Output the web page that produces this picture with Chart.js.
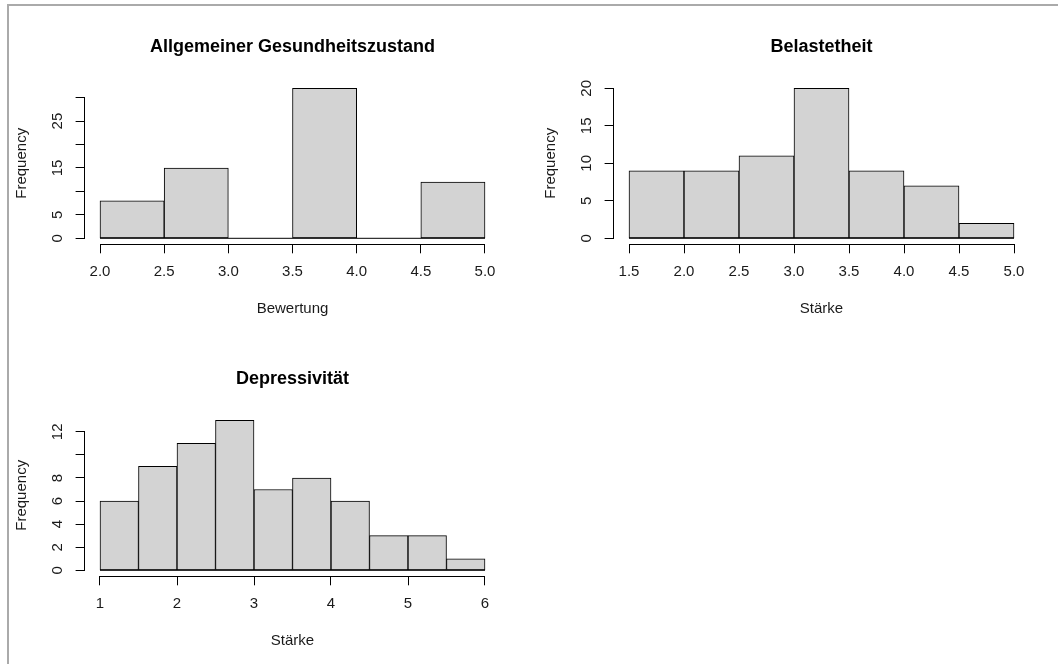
<!DOCTYPE html>
<html>
<head>
<meta charset="utf-8">
<script src="https://cdn.jsdelivr.net/npm/chart.js@4.4.1/dist/chart.umd.min.js"></script>
<style>
  html, body { margin: 0; padding: 0; background: #fff; }
  #page { position: relative; width: 1058px; height: 664px; overflow: hidden; background: #fff; }
  #frame { position: absolute; left: 7px; top: 4px; width: 1100px; height: 700px;
           border-top: 2px solid #aaa; border-left: 2px solid #aaa; }
  canvas { position: absolute; }
</style>
</head>
<body>
<div id="page">
  <div id="frame"></div>
  <canvas id="histGesundheit" width="529" height="332" style="left:0;top:0"></canvas>
  <canvas id="histBelastet" width="529" height="332" style="left:529px;top:0"></canvas>
  <canvas id="histDepress" width="529" height="332" style="left:0;top:332px"></canvas>
</div>
<script>
// --- Daten ---
const titleGesundheit = 'Allgemeiner Gesundheitszustand';
const xTitleGesundheit = 'Bewertung';
const breaksGesundheit = [2.0, 2.5, 3.0, 3.5, 4.0, 4.5, 5.0];
const countsGesundheit = [8, 15, 0, 32, 0, 12];
const xTicksGesundheit = [2.0, 2.5, 3.0, 3.5, 4.0, 4.5, 5.0];
const xLabelsGesundheit = ['2.0', '2.5', '3.0', '3.5', '4.0', '4.5', '5.0'];
const yTicksGesundheit = [0, 5, 10, 15, 20, 25, 30];
const yLabelsGesundheit = ['0', '5', '', '15', '', '25', ''];

const titleBelastet = 'Belastetheit';
const xTitleBelastet = 'Stärke';
const breaksBelastet = [1.5, 2.0, 2.5, 3.0, 3.5, 4.0, 4.5, 5.0];
const countsBelastet = [9, 9, 11, 20, 9, 7, 2];
const xTicksBelastet = [1.5, 2.0, 2.5, 3.0, 3.5, 4.0, 4.5, 5.0];
const xLabelsBelastet = ['1.5', '2.0', '2.5', '3.0', '3.5', '4.0', '4.5', '5.0'];
const yTicksBelastet = [0, 5, 10, 15, 20];
const yLabelsBelastet = ['0', '5', '10', '15', '20'];

const titleDepress = 'Depressivität';
const xTitleDepress = 'Stärke';
const breaksDepress = [1.0, 1.5, 2.0, 2.5, 3.0, 3.5, 4.0, 4.5, 5.0, 5.5, 6.0];
const countsDepress = [6, 9, 11, 13, 7, 8, 6, 3, 3, 1];
const xTicksDepress = [1, 2, 3, 4, 5, 6];
const xLabelsDepress = ['1', '2', '3', '4', '5', '6'];
const yTicksDepress = [0, 2, 4, 6, 8, 10, 12];
const yLabelsDepress = ['0', '2', '4', '6', '8', '', '12'];

// --- Layout wie R (par(mfrow=c(2,2))) ---
const CELL_W = 529, CELL_H = 332;
const PLOT_LEFT = 84.6, PLOT_RIGHT = 500.4, PLOT_TOP = 82.3, PLOT_BOTTOM = 244.3;
const FONT = '"Liberation Sans", Arial, sans-serif';
const TEXT = '#1a1a1a';

// R zeichnet die Achsenlinie nur vom ersten bis zum letzten Tick
const rAxisLine = {
  id: 'rAxisLine',
  afterDraw(chart) {
    const { ctx, chartArea, scales } = chart;
    const align = p => Math.round(p - 0.5) + 0.5;
    const xt = scales.x.ticks, yt = scales.y.ticks;
    ctx.save();
    ctx.strokeStyle = '#000';
    ctx.lineWidth = 1;
    ctx.beginPath();
    const yb = align(chartArea.bottom);
    ctx.moveTo(align(scales.x.getPixelForValue(xt[0].value)), yb);
    ctx.lineTo(align(scales.x.getPixelForValue(xt[xt.length - 1].value)), yb);
    const xl = align(chartArea.left);
    ctx.moveTo(xl, align(scales.y.getPixelForValue(yt[0].value)));
    ctx.lineTo(xl, align(scales.y.getPixelForValue(yt[yt.length - 1].value)));
    ctx.stroke();
    ctx.restore();
  }
};

function makeHist(id, title, xTitle, breaks, counts, xTicks, xLabels, yTicks, yLabels) {
  const mids = counts.map((c, i) => ({ x: (breaks[i] + breaks[i + 1]) / 2, y: c }));
  const xFirst = breaks[0], xLast = breaks[breaks.length - 1];
  const xPad = 0.04 * (xLast - xFirst);
  const yMax = Math.max(...counts);
  const yPad = 0.04 * yMax;

  const tickGrid = {
    display: true, drawOnChartArea: false, drawTicks: true,
    tickLength: 9, color: '#000', lineWidth: 1, offset: false
  };

  return new Chart(document.getElementById(id), {
    type: 'bar',
    data: {
      datasets: [
        {
          type: 'line',
          data: [{ x: xFirst, y: 0 }, { x: xLast, y: 0 }],
          borderColor: '#000', borderWidth: 1, pointRadius: 0, order: 0
        },
        {
          data: mids,
          backgroundColor: '#d3d3d3',
          borderColor: '#000',
          borderWidth: 1,
          borderSkipped: false,
          barPercentage: 1.0,
          categoryPercentage: 1.0,
          order: 1
        }
      ]
    },
    options: {
      responsive: false,
      animation: false,
      layout: { autoPadding: false, padding: { left: 0, top: 0, bottom: 0, right: CELL_W - PLOT_RIGHT } },
      plugins: {
        legend: { display: false },
        tooltip: { enabled: false },
        title: {
          display: true, text: title, fullSize: false, color: '#000',
          font: { family: FONT, size: 18, weight: 'bold' },
          padding: { top: 36.2, bottom: PLOT_TOP - 36.2 - 21.6 }
        }
      },
      scales: {
        x: {
          type: 'linear', offset: false,
          min: xFirst - xPad, max: xLast + xPad,
          afterBuildTicks: s => { s.ticks = xTicks.map(v => ({ value: v })); },
          afterFit: s => { s.height = CELL_H - PLOT_BOTTOM; },
          grid: tickGrid,
          border: { display: false },
          ticks: {
            autoSkip: false, maxRotation: 0, minRotation: 0, padding: 10,
            color: TEXT, font: { family: FONT, size: 15 },
            callback: (v, i) => xLabels[i]
          },
          title: {
            display: true, text: xTitle, color: TEXT,
            font: { family: FONT, size: 15 },
            padding: { top: 0, bottom: 13.7 }
          }
        },
        y: {
          min: -yPad, max: yMax + yPad,
          afterBuildTicks: s => { s.ticks = yTicks.map(v => ({ value: v })); },
          afterFit: s => { s.width = PLOT_LEFT; },
          grid: tickGrid,
          border: { display: false },
          ticks: {
            autoSkip: false, minRotation: 90, maxRotation: 90, crossAlign: 'center', padding: 9,
            color: TEXT, font: { family: FONT, size: 15 },
            callback: (v, i) => yLabels[i]
          },
          title: {
            display: true, text: 'Frequency', color: TEXT,
            font: { family: FONT, size: 15 },
            padding: { top: 12.7, bottom: 0 }
          }
        }
      }
    },
    plugins: [rAxisLine]
  });
}

makeHist('histGesundheit', titleGesundheit, xTitleGesundheit, breaksGesundheit, countsGesundheit,
  xTicksGesundheit, xLabelsGesundheit, yTicksGesundheit, yLabelsGesundheit);
makeHist('histBelastet', titleBelastet, xTitleBelastet, breaksBelastet, countsBelastet,
  xTicksBelastet, xLabelsBelastet, yTicksBelastet, yLabelsBelastet);
makeHist('histDepress', titleDepress, xTitleDepress, breaksDepress, countsDepress,
  xTicksDepress, xLabelsDepress, yTicksDepress, yLabelsDepress);
</script>
</body>
</html>
